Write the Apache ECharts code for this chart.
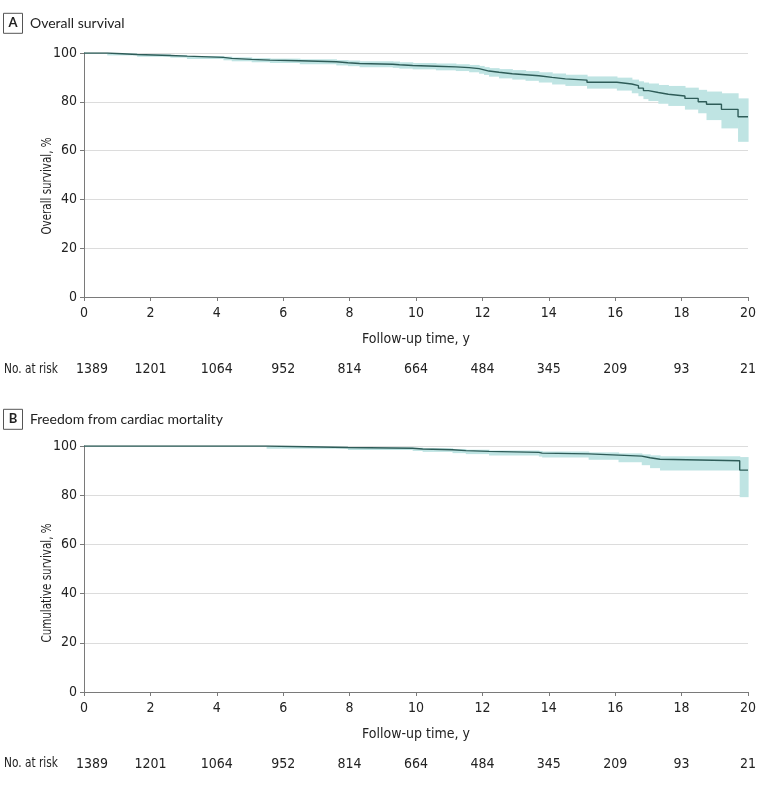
<!DOCTYPE html>
<html><head><meta charset="utf-8">
<script src="https://cdn.jsdelivr.net/npm/echarts@6/dist/echarts.min.js"></script>
<style>html,body{margin:0;padding:0;background:#fff}#c{width:783px;height:785px}</style>
</head><body><div id="c"></div>
<script>
// ---- data ----
const riskTimes = [0,2,4,6,8,10,12,14,16,18,20];
const riskCounts = [1389,1201,1064,952,814,664,484,345,209,93,21];

// Panel A: overall survival (Kaplan-Meier, %)
const tA  = [0,0.7,1.6,2.6,3.1,4.2,4.45,5.05,5.6,6.5,7.6,7.95,8.3,9.3,9.5,9.9,10.6,11.2,11.6,11.9,12.05,12.2,12.5,12.9,13.3,13.7,14.1,14.5,15.15,16.05,16.5,16.7,16.85,17.0,17.3,17.6,18.1,18.5,18.75,19.2,19.7,20.0];
const sA  = [100,99.4,99.0,98.7,98.2,97.8,97.4,97.1,96.8,96.4,96.0,95.7,95.4,95.2,94.9,94.6,94.3,94.0,93.6,93.1,92.6,92.1,91.5,91.1,90.7,90.0,89.4,88.9,88.0,87.3,86.6,85.6,84.6,83.8,83.1,82.4,81.4,80.0,79.0,76.9,73.9,73.9];
const loA = [99.9,99.0,98.5,98.1,97.5,97.0,96.6,96.2,95.9,95.4,94.9,94.6,94.2,93.9,93.6,93.3,92.9,92.6,92.1,91.5,91.0,90.3,89.6,89.1,88.6,87.9,87.1,86.5,85.4,84.6,83.5,82.3,81.1,80.3,79.2,78.3,76.8,75.3,72.5,69.1,63.6,63.6];
const hiA = [100,99.8,99.5,99.2,98.8,98.5,98.2,97.9,97.7,97.4,97.1,96.9,96.6,96.5,96.2,95.9,95.7,95.4,95.1,94.7,94.2,93.8,93.4,93.0,92.6,92.1,91.6,91.1,90.4,89.9,89.1,88.4,87.9,87.5,86.9,86.5,85.8,84.9,84.2,83.5,81.4,81.4];

// Panel B: freedom from cardiac mortality (%)
const tB  = [0,5.5,7.95,9.9,10.2,11.1,11.5,12.2,13.7,13.8,15.2,16.1,16.8,17.05,17.35,19.75,20.0];
const sB  = [100,99.4,99.1,98.8,98.5,98.1,97.8,97.4,97.1,96.8,96.3,95.9,95.2,94.6,94.0,90.2,90.2];
const loB = [99.9,98.9,98.4,98.0,97.6,97.1,96.7,96.1,95.7,95.3,94.4,93.4,92.2,91.0,90.0,79.2,79.2];
const hiB = [100,99.7,99.5,99.3,99.1,98.8,98.5,98.2,98.0,97.8,97.4,97.0,96.6,96.2,95.8,95.5,95.5];

const titleA = 'Overall survival';
const titleB = 'Freedom from cardiac mortality';
const yNameA = 'Overall survival, %';
const yNameB = 'Cumulative survival, %';
const xName = 'Follow-up time, y';

// ---- styles ----
const NARROW = '"Liberation Sans Narrow","DejaVu Sans Condensed","Arial Narrow",sans-serif';
const TITLEF = 'Lato,"Noto Sans",sans-serif';
const AXC = '#7a7a7a';
const LINEC = '#2e5c58';
const BANDC = '#bfe4e3';
const TXT = '#222';

const chart = echarts.init(document.getElementById('c'), null, {renderer:'canvas'});

function mainX(gi){
  return {
    gridIndex: gi, type:'value', min:0, max:20, interval:2,
    axisLine:{show:true, lineStyle:{color:AXC, width:1}},
    axisTick:{show:true, length:4, lineStyle:{color:AXC}},
    axisLabel:{fontFamily:NARROW, fontSize:14, color:TXT, margin:9},
    splitLine:{show:false},
    name:xName, nameLocation:'middle', nameGap:35,
    nameTextStyle:{fontFamily:NARROW, fontSize:14, color:TXT}
  };
}
function riskX(gi){
  return {
    gridIndex: gi, type:'value', min:0, max:20, interval:2, position:'bottom',
    axisLine:{show:false}, axisTick:{show:false}, splitLine:{show:false},
    axisLabel:{fontFamily:NARROW, fontSize:14, color:TXT, margin:65,
      formatter:function(v){ const i = riskTimes.indexOf(v); if(i<0) return ''; return i===0 ? '{f|'+riskCounts[i]+'}' : String(riskCounts[i]); },
      rich:{f:{fontFamily:NARROW, fontSize:14, color:TXT, padding:[0,0,0,16]}}
    }
  };
}
function mainY(gi){
  return {
    gridIndex: gi, type:'value', min:0, max:100, interval:20,
    axisLine:{show:true, lineStyle:{color:AXC, width:1}},
    axisTick:{show:true, length:4, lineStyle:{color:AXC}},
    axisLabel:{fontFamily:NARROW, fontSize:14, color:TXT, margin:7},
    splitLine:{show:true, lineStyle:{color:'#dcdcdc', width:1}}
  };
}
function bandRender(params, api){
  const x0 = api.value(0), x1 = api.value(1), lo = api.value(2), hi = api.value(3);
  const p1 = api.coord([x0, hi]), p2 = api.coord([x1, lo]);
  return {type:'rect', shape:{x:p1[0], y:p1[1], width:p2[0]-p1[0]+0.6, height:p2[1]-p1[1]},
          style:{fill:BANDC}, silent:true};
}
function kmSeries(xi, yi, t, s, lo, hi){
  const bandData = [];
  for (let i=0;i<t.length-1;i++) bandData.push([t[i], t[i+1], lo[i], hi[i]]);
  return [
    {type:'custom', xAxisIndex:xi, yAxisIndex:yi, renderItem:bandRender, data:bandData,
     encode:{x:[0,1], y:[2,3]}, z:1, silent:true},
    {type:'line', xAxisIndex:xi, yAxisIndex:yi, step:'end', symbol:'none', silent:true,
     lineStyle:{color:LINEC, width:1.4}, data:t.map((x,i)=>[x, s[i]]), z:3}
  ];
}
function panelLabel(letter, title, yc){
  return {type:'group', children:[
    {type:'rect', shape:{x:3.5, y:yc-10, width:19, height:20}, style:{fill:'#fff', stroke:'#555', lineWidth:1}},
    {type:'text', style:{x:13, y:yc, text:letter, font:'bold 13px '+TITLEF, fill:TXT, align:'center', verticalAlign:'middle'}},
    {type:'text', style:{x:30, y:yc, text:title, font:'14px '+TITLEF, fill:TXT, align:'left', verticalAlign:'middle'}}
  ]};
}
function yName(text, xc, yc){
  return {type:'text', x:xc, y:yc, rotation:Math.PI/2, scaleX:0.82,
          style:{text:text, font:'14px '+NARROW, fill:TXT, align:'center', verticalAlign:'middle'}};
}
function riskHead(yc){
  return {type:'text', x:4, y:yc, scaleX:0.84,
          style:{x:0, y:0, text:'No. at risk', font:'14px '+NARROW, fill:TXT, verticalAlign:'middle'}};
}

const option = {
  animation:false,
  backgroundColor:'#fff',
  grid:[
    {left:84, right:35, top:53, height:244},
    {left:84, right:35, top:446, height:246}
  ],
  xAxis:[mainX(0), riskX(0), mainX(1), riskX(1)],
  yAxis:[mainY(0), mainY(1)],
  series:[].concat(kmSeries(0, 0, tA, sA, loA, hiA), kmSeries(2, 1, tB, sB, loB, hiB)),
  graphic:[
    panelLabel('A', titleA, 23.3),
    panelLabel('B', titleB, 419.3),
    yName(yNameA, 47, 186),
    yName(yNameB, 47, 583),
    riskHead(369),
    riskHead(763)
  ]
};
chart.setOption(option);
</script></body></html>
